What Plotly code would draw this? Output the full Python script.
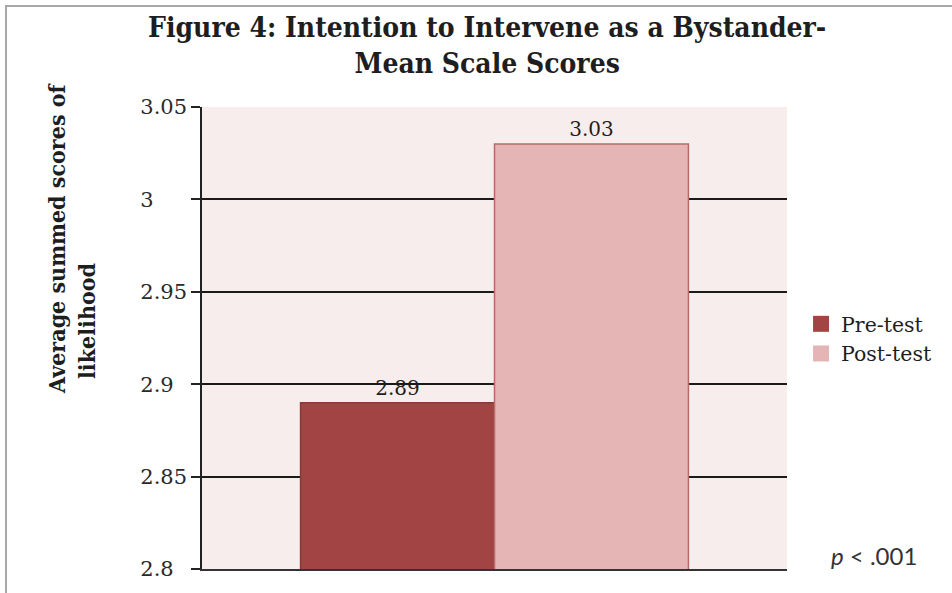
import plotly.graph_objects as go

# Chart data
groups = ["Pre-test", "Post-test"]
scores = [2.89, 3.03]
category = ["Mean scale score"]
fill_colors = ["#A24443", "#E5B5B5"]
edge_colors = ["#8C3838", "#B86A6A"]

tick_vals = [2.8, 2.85, 2.9, 2.95, 3.0, 3.05]
# left-aligned look: pad shorter labels with figure / punctuation spaces
tick_text = ["2.8\u2007", "2.85", "2.9\u2007", "2.95", "3\u2008\u2007\u2007", "3.05"]

serif = "DejaVu Serif"
serif_bold = "DejaVu Serif Condensed"
ink = "#1e1e1e"

fig = go.Figure()

for name, val, fc, ec in zip(groups, scores, fill_colors, edge_colors):
    fig.add_trace(go.Bar(
        x=category, y=[val], name=name,
        marker=dict(color=fc, line=dict(color=ec, width=1.5)),
        text=[f"{val:.2f}"], textposition="outside",
        textfont=dict(family=serif, size=20, color=ink),
        cliponaxis=False, showlegend=False,
    ))
    # legend swatch
    fig.add_trace(go.Scatter(
        x=[None], y=[None], mode="markers", name=name,
        marker=dict(symbol="square", size=16, color=fc),
    ))

fig.update_layout(
    width=952, height=593,
    margin=dict(l=202, r=165, t=107, b=24, autoexpand=False),
    paper_bgcolor="white",
    plot_bgcolor="#F8EDED",
    barmode="group",
    bargap=0.337,
    bargroupgap=0,
    showlegend=True,
    legend=dict(
        x=1.024, y=(569 - 339) / 462, xanchor="left", yanchor="middle",
        font=dict(family=serif, size=20.5, color=ink),
        bgcolor="rgba(0,0,0,0)", itemwidth=30, tracegroupgap=0,
    ),
    font=dict(family=serif, color=ink),
)

fig.update_xaxes(
    showticklabels=False, ticks="", showgrid=False,
    showline=True, linecolor="#333333", linewidth=1.5,
    range=[-0.5, 0.5],
)
fig.update_yaxes(
    range=[2.8, 3.05],
    tickvals=tick_vals, ticktext=tick_text,
    tickfont=dict(family=serif, size=21, color="#2a2a2a"),
    ticks="outside", ticklen=9, tickwidth=1.5, tickcolor="#222222",
    showgrid=True, gridcolor="#1a1a1a", gridwidth=1.5,
    showline=True, linecolor="#222222", linewidth=1.5,
    zeroline=False,
)

# two-line title
fig.add_annotation(
    text="Figure 4: Intention to Intervene as a Bystander-<br>Mean Scale Scores",
    xref="paper", yref="paper", x=(487 - 202) / 585, y=(569 - 9) / 462,
    xanchor="center", yanchor="top", showarrow=False,
    font=dict(family=serif_bold, size=28, color=ink, weight="bold"),
)

# two-line rotated axis title
fig.add_annotation(
    text="Average summed scores of", textangle=-90,
    xref="paper", yref="paper", x=(56 - 202) / 585, y=(569 - 238) / 462,
    xanchor="center", yanchor="middle", showarrow=False,
    font=dict(family=serif_bold, size=23, color=ink, weight="bold"),
)
fig.add_annotation(
    text="likelihood", textangle=-90,
    xref="paper", yref="paper", x=(86 - 202) / 585, y=(569 - 321) / 462,
    xanchor="center", yanchor="middle", showarrow=False,
    font=dict(family=serif_bold, size=23, color=ink, weight="bold"),
)

# significance note
fig.add_annotation(
    text="<i>p</i> < .001",
    xref="paper", yref="paper", x=(829 - 202) / 585, y=(569 - 555) / 462,
    xanchor="left", yanchor="middle", showarrow=False,
    font=dict(family="Lato", size=24, color="#333333"),
)

# thin frame around the figure
fig.add_shape(
    type="rect", xref="paper", yref="paper",
    x0=(6 - 202) / 585, x1=1.6, y0=-0.3, y1=(569 - 6) / 462,
    line=dict(color="#a8a8a8", width=2), fillcolor="rgba(0,0,0,0)",
    layer="below",
)

fig.write_html("out.html")
